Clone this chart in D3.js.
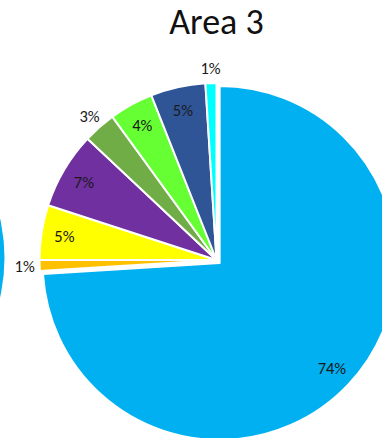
<!DOCTYPE html>
<html>
<head>
<meta charset="utf-8">
<script src="https://cdn.jsdelivr.net/npm/d3@7"></script>
<style>
  html, body { margin: 0; padding: 0; background: #ffffff; }
  svg { display: block; }
</style>
</head>
<body>
<svg id="chart" width="382" height="438"></svg>
<script>
// Share of each category in Area 3, clockwise from 12 o'clock
const categories = ["A", "B", "C", "D", "E", "F", "G", "H"];
const shares = [74, 1, 5, 7, 3, 4, 5, 1];
const colors = ["#00B0F0", "#FFC000", "#FFFF00", "#7030A0", "#70AD47", "#66FF33", "#2F5597", "#00FFFF"];
const labels = ["74%", "1%", "5%", "7%", "3%", "4%", "5%", "1%"];
const title = "Area 3";

// Neighbouring chart (Area 2), only its right rim shows at the left edge
const neighborShares = [100];
const neighborColors = ["#00B0F0"];

const svg = d3.select("#chart");

const cx = 216.5, cy = 260, R = 177;
const explodeDist = 4.3;      // first slice is pulled out along its bisector
const insideR = 154, outsideR = 192;

const pie = d3.pie().sort(null).value(d => d.value);
const arcs = pie(shares.map((v, i) => ({ value: v, cat: categories[i], color: colors[i], label: labels[i] })));

const arc = d3.arc().innerRadius(0).outerRadius(R);

// neighbour pie
const nArcs = d3.pie().sort(null)(neighborShares);
svg.append("g")
  .attr("transform", `translate(${-172.5},${cy - 2})`)
  .selectAll("path")
  .data(nArcs)
  .join("path")
  .attr("d", arc)
  .attr("fill", (d, i) => neighborColors[i]);

function offset(d) {
  if (d.index !== 0) return [0, 0];
  const mid = (d.startAngle + d.endAngle) / 2;
  return [explodeDist * Math.sin(mid), -explodeDist * Math.cos(mid)];
}

const g = svg.append("g").attr("transform", `translate(${cx},${cy})`);

g.selectAll("path.slice")
  .data(arcs)
  .join("path")
  .attr("class", "slice")
  .attr("transform", d => { const o = offset(d); return `translate(${o[0]},${o[1]})`; })
  .attr("d", arc)
  .attr("fill", d => d.data.color)
  .attr("stroke", "#ffffff")
  .attr("stroke-width", 2)
  .attr("stroke-linejoin", "round");

// data labels: small slices are labelled outside the rim
g.selectAll("text.lbl")
  .data(arcs)
  .join("text")
  .attr("class", "lbl")
  .attr("transform", d => {
    const r = d.data.value <= 3 ? outsideR : insideR;
    const la = d3.arc().innerRadius(r).outerRadius(r);
    const c = la.centroid(d);
    const o = offset(d);
    return `translate(${c[0] + o[0]},${c[1] + o[1]})`;
  })
  .attr("text-anchor", "middle")
  .attr("dy", "0.36em")
  .attr("font-family", "Carlito, Calibri, Lato, sans-serif")
  .attr("font-size", 16.5)
  .attr("fill", "#1a1a1a")
  .text(d => d.data.label);

svg.append("text")
  .attr("x", cx)
  .attr("y", 34)
  .attr("text-anchor", "middle")
  .attr("font-family", "Carlito, Calibri, Lato, sans-serif")
  .attr("font-size", 36)
  .attr("fill", "#111111")
  .text(title);
</script>
</body>
</html>
